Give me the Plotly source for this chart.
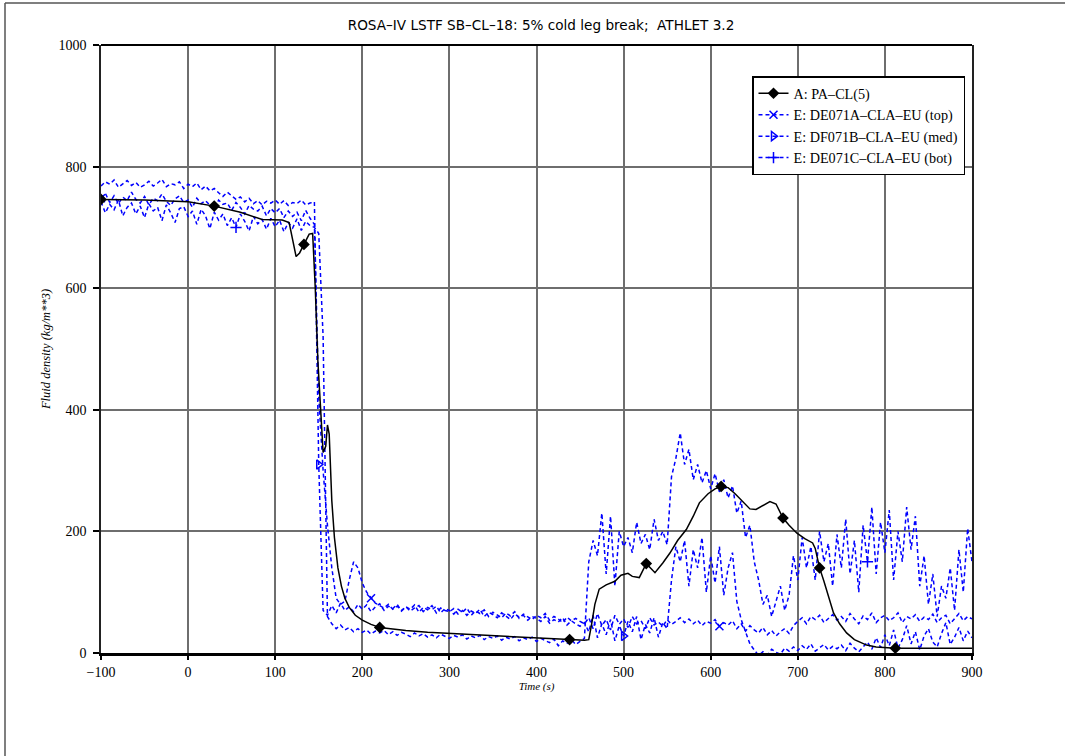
import numpy as np
import plotly.graph_objects as go

# ---------------- data ----------------
# Computed (ATHLET) fluid density, PA-CL(5)
pa_time = [-100, -50, 0, 30, 60, 85, 108, 116, 120, 124, 128, 133, 139, 143, 146, 149,
           152, 155, 158, 160, 162, 165, 168, 172, 176, 180, 185, 192, 200, 210, 220,
           235, 250, 275, 300, 350, 400, 438, 455, 460, 463, 467, 472, 480, 490, 497,
           505, 510, 518, 526, 532, 536, 545, 553, 562, 572, 580, 587, 597, 605, 612,
           620, 628, 637, 645, 652, 660, 668, 675, 683, 690, 699, 708, 717, 720, 725,
           730, 735, 741, 748, 756, 765, 779, 790, 800, 812, 850, 900]
pa_density = [746, 745, 742, 735, 725, 713, 712, 708, 680, 652, 658, 672, 689, 690, 600, 480,
              400, 330, 340, 375, 360, 250, 190, 140, 110, 90, 75, 62, 54, 47, 42,
              39, 37, 34, 32, 28, 24, 22, 21, 22, 45, 80, 105, 112, 118, 128,
              131, 126, 124, 147, 138, 132, 148, 164, 185, 203, 225, 247, 262, 270, 274,
              272, 262, 248, 237, 236, 242, 249, 245, 222, 210, 197, 188, 181, 172, 140,
              118, 95, 66, 48, 33, 22, 13, 10, 9, 8, 8, 8]
pa_marker_times = [-100, 30, 133, 220, 438, 526, 612, 683, 725, 812]

# Measured densities, sampled every 5 s starting at -100 s (rows of 50 s)
top_density = [
    748, 756, 741, 752, 739, 750, 744, 758, 746, 740,   # -100
    751, 737, 748, 744, 755, 743, 736, 747, 752, 741,   # -50
    745, 733, 748, 739, 744, 736, 729, 745, 738, 740,   # 0
    728, 741, 733, 722, 736, 730, 727, 735, 719, 731,   # 50
    724, 731, 716, 727, 718, 725, 711, 728, 715, 705,   # 100
    420, 300, 210, 140, 90, 80, 85, 120, 150, 140,      # 150
    115, 100, 90, 82, 78, 74, 80, 72, 77, 70,           # 200
    76, 69, 74, 78, 68, 75, 71, 77, 66, 73,             # 250
    70, 64, 72, 67, 74, 62, 69, 65, 71, 60,             # 300
    67, 63, 58, 66, 61, 68, 57, 64, 60, 55,             # 350
    62, 58, 65, 54, 60, 56, 50, 59, 53, 57,             # 400
    52, 48, 58, 40, 65, 45, 55, 38, 62, 47,             # 450
    56, 42, 60, 48, 53, 40, 58, 46, 51, 44,             # 500
    55, 47, 52, 58, 50, 56, 48, 54, 45, 52,             # 550
    49, 55, 44, 50, 46, 53, 40, 48, 36, 45,             # 600
    38, 33, 42, 30, 37, 28, 35, 40, 32, 45,             # 650
    52, 58, 48, 60, 55, 62, 50, 57, 63, 54,             # 700
    60, 52, 65, 56, 48, 61, 55, 66, 50, 58,             # 750
    62, 53, 58, 66, 50, 60, 56, 63, 52, 59,             # 800
    55, 64, 50, 58, 62, 48, 57, 65, 53, 60,             # 850
    56]                                                 # 900

med_density = [
    768, 775, 771, 778, 766, 772, 777, 769, 774, 766,   # -100
    770, 776, 768, 773, 779, 767, 772, 770, 775, 764,   # -50
    771, 767, 773, 762, 768, 760, 764, 757, 751, 758,   # 0
    752, 746, 750, 742, 748, 739, 744, 737, 743, 740,   # 50
    745, 738, 744, 736, 741, 739, 745, 737, 740, 742,   # 100
    310, 70, 62, 78, 66, 82, 70, 76, 68, 80,            # 150
    72, 79, 68, 76, 81, 70, 77, 73, 80, 69,             # 200
    76, 72, 79, 67, 75, 71, 78, 66, 74, 70,             # 250
    68, 73, 64, 70, 62, 69, 65, 72, 60, 67,             # 300
    63, 58, 66, 61, 55, 64, 59, 62, 54, 60,             # 350
    57, 52, 60, 49, 55, 51, 58, 46, 53, 48,             # 400
    44, 50, 35, 62, 25, 48, 30, 55, 20, 45,             # 450
    28, 52, 35, 60, 22, 47, 33, 58, 26, 50,             # 500
    40, 120, 175, 150, 185, 110, 170, 140, 190, 100,    # 550
    160, 115, 175, 95, 140, 165, 85, 55, 35, 15,        # 600
    5, -4, 2, -3, 6, 1, -2, 8, 3, 10,                   # 650
    4, 12, 6, 15, 3, 9, 14, 5, 11, 7,                   # 700
    13, 4, 16, 8, 2, 10, 18, 6, 25, 9,                  # 750
    30, 12, 38, 8, 22, 45, 15, 35, 5, 28,               # 800
    40, 18, 10, 32, 50, 14, 26, 42, 20, 36,             # 850
    25]                                                 # 900

bot_density = [
    742, 724, 738, 729, 745, 719, 733, 740, 722, 735,   # -100
    716, 739, 727, 733, 711, 737, 724, 708, 731, 734,   # -50
    718, 727, 705, 730, 719, 698, 725, 712, 722, 703,   # 0
    716, 700, 722, 710, 694, 718, 706, 713, 697, 715,   # 50
    701, 712, 693, 708, 699, 714, 695, 710, 703, 700,   # 100
    690, 520, 60, 48, 40, 46, 38, 42, 35, 40,           # 150
    34, 38, 31, 36, 33, 37, 30, 35, 29, 34,             # 200
    31, 27, 33, 28, 32, 26, 30, 25, 31, 27,             # 250
    24, 29, 26, 30, 23, 28, 25, 29, 22, 27,             # 300
    24, 28, 21, 26, 23, 27, 20, 25, 22, 26,             # 350
    19, 24, 21, 17, 23, 12, 20, 16, 22, 14,             # 400
    19, 24, 150, 185, 160, 230, 130, 225, 110, 200,     # 450
    175, 190, 165, 215, 180, 195, 170, 220, 185, 200,   # 500
    178, 290, 320, 362, 310, 335, 285, 310, 280, 300,   # 550
    270, 295, 265, 285, 255, 275, 230, 250, 190, 210,   # 600
    150, 120, 80, 95, 60, 85, 110, 70, 95, 160,         # 650
    120, 190, 140, 175, 120, 200, 150, 180, 110, 195,   # 700
    140, 220, 130, 185, 100, 210, 150, 240, 130, 215,   # 750
    165, 235, 120, 200, 150, 240, 170, 225, 110, 160,   # 800
    80, 130, 60, 110, 90, 140, 70, 170, 100, 205,       # 850
    150]                                                # 900

top_marker_times = [-100, 210, 610]
med_marker_times = [150, 500]
bot_marker_times = [55, 780]

title_text = "ROSA–IV LSTF SB–CL–18: 5% cold leg break;  ATHLET 3.2"
x_title = "Time (s)"
y_title = "Fluid density (kg/m**3)"
legend_names = ["A: PA–CL(5)", "E: DE071A–CLA–EU (top)",
                "E: DF071B–CLA–EU (med)", "E: DE071C–CLA–EU (bot)"]

# ---------------- figure ----------------
def tgrid(vals):
    return np.arange(-100, -100 + 5 * len(vals), 5)

def pick(times, vals, sel):
    d = dict(zip(list(times), list(vals)))
    return [d[t] for t in sel]

BLUE = "#0000ff"
DASH = "4px,3px"
fig = go.Figure()

series = [
    (top_density, top_marker_times, "x-thin-open", legend_names[1]),
    (med_density, med_marker_times, "triangle-right-open", legend_names[2]),
    (bot_density, bot_marker_times, "cross-thin-open", legend_names[3]),
]
for vals, mt, sym, name in series:
    t = tgrid(vals)
    fig.add_trace(go.Scatter(x=t, y=vals, mode="lines", showlegend=False,
                             line=dict(color=BLUE, width=1.5, dash=DASH)))
    fig.add_trace(go.Scatter(x=mt, y=pick(t.tolist(), vals, mt), mode="markers",
                             showlegend=False,
                             marker=dict(symbol=sym, size=8, color=BLUE,
                                         line=dict(color=BLUE, width=1.5))))

fig.add_trace(go.Scatter(x=pa_time, y=pa_density, mode="lines", showlegend=False,
                         line=dict(color="black", width=1.5)))
fig.add_trace(go.Scatter(x=pa_marker_times, y=pick(pa_time, pa_density, pa_marker_times),
                         mode="markers", showlegend=False,
                         marker=dict(symbol="diamond", size=9, color="black")))

# legend entries
fig.add_trace(go.Scatter(x=[None], y=[None], mode="lines+markers", name=legend_names[0],
                         line=dict(color="black", width=1.5),
                         marker=dict(symbol="diamond", size=9, color="black")))
for vals, mt, sym, name in series:
    fig.add_trace(go.Scatter(x=[None], y=[None], mode="lines+markers", name=name,
                             line=dict(color=BLUE, width=1.5, dash=DASH),
                             marker=dict(symbol=sym, size=8, color=BLUE,
                                         line=dict(color=BLUE, width=1.5))))

L, R, T, B = 101, 93, 45, 103
W, H = 1065, 756
pw, ph = W - L - R, H - T - B

fig.update_layout(
    width=W, height=H,
    margin=dict(l=L, r=R, t=T, b=B),
    paper_bgcolor="white", plot_bgcolor="white",
    title=dict(text=title_text, x=541 / W, xanchor="center",
               y=1 - 25 / H, yanchor="middle",
               font=dict(family="DejaVu Sans", size=13.6, color="black")),
    legend=dict(x=(752 - L) / pw, y=(H - B - 76) / ph, xanchor="left", yanchor="top",
                bgcolor="white", bordercolor="black", borderwidth=1.5,
                font=dict(family="Liberation Serif", size=14.2, color="black"),
                itemwidth=30, tracegroupgap=0),
    xaxis=dict(range=[-100, 900], dtick=100, tick0=-100, showgrid=True,
               gridcolor="#6e6e6e", gridwidth=1.5, zeroline=False,
               showline=True, linecolor="black", linewidth=3, mirror=False,
               ticks="outside", ticklen=4, tickcolor="black", tickwidth=1.5,
               tickfont=dict(family="Liberation Serif", size=14, color="black"),
               title=dict(text=x_title, standoff=2,
                          font=dict(family="Liberation Serif", size=11, color="black",
                                    style="italic"))),
    yaxis=dict(range=[0, 1000], dtick=200, showgrid=True,
               gridcolor="#6e6e6e", gridwidth=1.5, zeroline=False,
               showline=True, linecolor="#222222", linewidth=1.5, mirror=True,
               ticks="outside", ticklen=6, tickcolor="black", tickwidth=1.5,
               ticklabelstandoff=4,
               tickfont=dict(family="Liberation Serif", size=14, color="black"),
               title=dict(text=y_title, standoff=5,
                          font=dict(family="Liberation Serif", size=12.5, color="black",
                                    style="italic"))),
)

# plot-area top border and page frame
fig.add_shape(type="line", xref="paper", yref="paper", x0=0, x1=1, y0=1, y1=1,
              line=dict(color="black", width=2))
fx = (5 - L) / pw
fy = (H - B - 3) / ph
fig.add_shape(type="line", xref="paper", yref="paper", x0=fx, x1=(W - L) / pw + 0.01,
              y0=fy, y1=fy, line=dict(color="#555555", width=1.5))
fig.add_shape(type="line", xref="paper", yref="paper", x0=fx, x1=fx,
              y0=fy, y1=-B / ph - 0.01, line=dict(color="#555555", width=1.5))

fig.write_html("out.html")
